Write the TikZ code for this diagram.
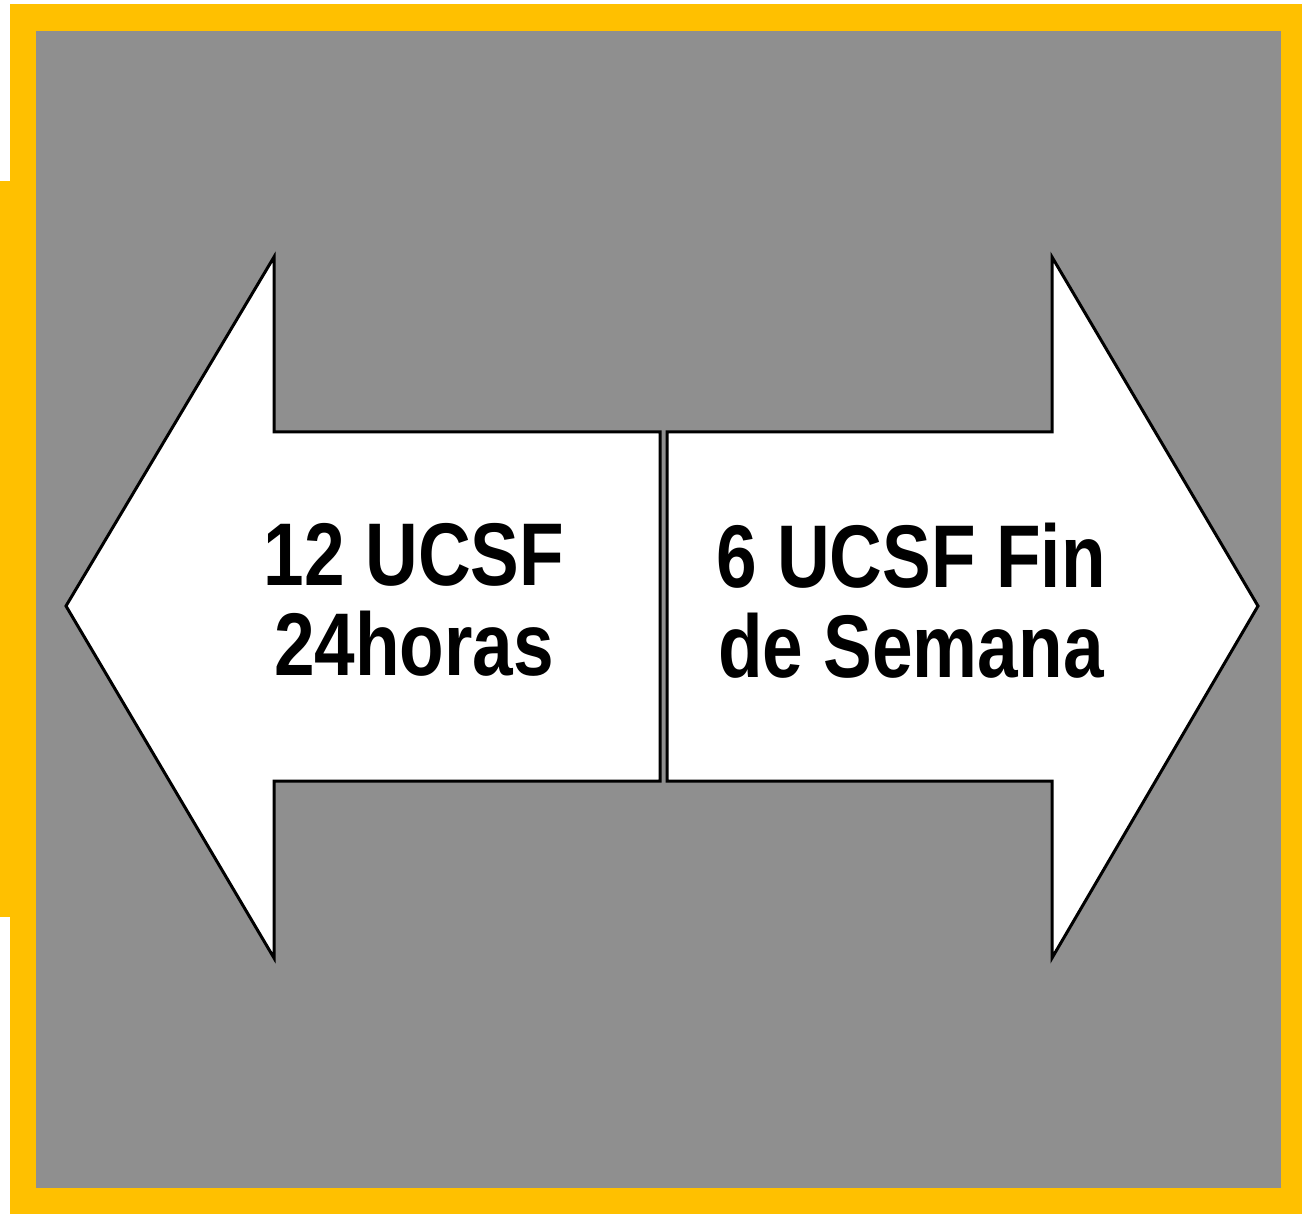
\documentclass[tikz,border=0pt]{standalone}
\usepackage{fontspec}
\newfontfamily\narrowbold{Liberation Sans}[FakeStretch=0.82]
\definecolor{frameyellow}{HTML}{FFC000}
\definecolor{panelgray}{HTML}{8F8F8F}
\begin{document}
\begin{tikzpicture}[x=1pt,y=-1pt,
  arrowshape/.style={fill=white,draw=black,line width=3pt,line join=miter},
  arrowtext/.style={align=center,inner sep=0pt,text=black,
    font=\narrowbold\bfseries\fontsize{89}{90}\selectfont}]
\useasboundingbox (0,0) rectangle (1302,1214);
% frame
\fill[frameyellow] (10,4) rectangle (1302,1214);
\fill[frameyellow] (0,181) rectangle (10,917);
\fill[panelgray] (36,31) rectangle (1281,1188);
% left arrow
\draw[arrowshape] (660,432) -- (274,432) -- (274,257) -- (66,606) -- (274,958) -- (274,781) -- (660,781) -- cycle;
% right arrow
\draw[arrowshape] (667,432) -- (1052,432) -- (1052,257) -- (1258,606) -- (1052,958) -- (1052,781) -- (667,781) -- cycle;
\node[arrowtext] (lefttext) at (414,600) {12 UCSF\\24horas};
\node[arrowtext] (righttext) at (911,601) {6 UCSF Fin\\de Semana};
\end{tikzpicture}
\end{document}
